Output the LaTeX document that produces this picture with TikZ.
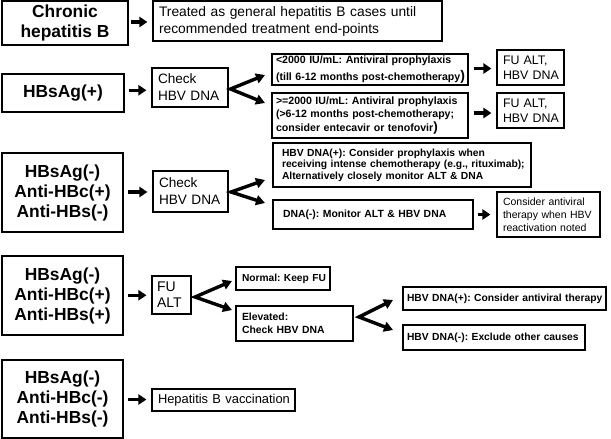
\documentclass[tikz,border=0pt]{standalone}
\usepackage{fontspec}
\setmainfont{Liberation Sans}
\usetikzlibrary{arrows.meta,calc}
\frenchspacing
\newcommand\fs[2]{\fontsize{#1}{#2}\selectfont}
\newcommand\mb[1]{\mbox{#1}}
\newcommand\bigpar[1]{{\fontsize{#1}{#1}\selectfont)}}
\newcommand\harr[4]{%
  \coordinate (m-#1-#2) at ($(#1.east)!.5!(#2.west)$);
  \draw[bigarrow, shorten <=#3, shorten >=#4] (#1.east |- m-#1-#2) -- (#2.west |- m-#1-#2);}
\tikzset{
  bx/.style={draw, line width=1.1pt, inner ysep=0pt, align=left, anchor=center},
  lbox/.style={draw, line width=1.5pt, inner sep=0pt, align=center, anchor=center, font=\bfseries\fs{17.4}{20}},
  bigarrow/.style={line width=3.2pt, -{Triangle[length=8pt,width=10pt]}},
  chev/.style={line width=3.4pt, line join=miter, {Triangle[length=9pt,width=10pt]}-{Triangle[length=9pt,width=10pt]}}
}
\begin{document}
\frenchspacing
\begin{tikzpicture}[x=1pt,y=-1pt]
\useasboundingbox[fill=white] (0,0) rectangle (611,439);
% row 1
\node[lbox, minimum width=126pt, minimum height=44pt] (chronic) at (65,23) {Chronic\\hepatitis B};
\node[bx, minimum width=289pt, minimum height=40pt, inner xsep=6pt, text width=277pt, font=\fs{13.8}{17}] (treated) at (297.5,21) {\mb{Treated as general hepatitis B cases until}\\\mb{recommended treatment end-points}};
% row 2
\node[lbox, minimum width=122pt, minimum height=38pt] (hbsagp) at (63,93) {HBsAg(+)};
\node[bx, minimum width=76pt, minimum height=39pt, inner xsep=6pt, text width=64pt, font=\fs{13.6}{17}] (chk1) at (190,87.5) {Check\\\mb{HBV DNA}};
\node[bx, minimum width=196pt, minimum height=31pt, inner xsep=4pt, text width=188pt, font=\bfseries\fs{10.6}{17}] (lt) at (370,69.5) {\mb{<2000 IU/mL: Antiviral prophylaxis}\\\mb{(till 6-12 months post-chemotherapy\bigpar{14}}};
\node[bx, minimum width=196pt, minimum height=45pt, inner xsep=4pt, text width=188pt, font=\bfseries\fs{10.6}{13.5}] (ge) at (370,115.5) {\mb{>=2000 IU/mL: Antiviral prophylaxis}\\\mb{(>6-12 months post-chemotherapy;}\\\mb{consider entecavir or tenofovir\bigpar{13.5}}};
\node[bx, minimum width=67pt, minimum height=35pt, inner xsep=6pt, text width=55pt, font=\fs{12.4}{15}] (fu1) at (530.5,67.5) {\mb{FU ALT,}\\\mb{HBV DNA}};
\node[bx, minimum width=67pt, minimum height=35pt, inner xsep=6pt, text width=55pt, font=\fs{12.4}{15}] (fu2) at (530.5,110.5) {\mb{FU ALT,}\\\mb{HBV DNA}};
% row 3
\node[lbox, minimum width=121pt, minimum height=79pt] (box3) at (62.5,192.5) {HBsAg(-)\\Anti-HBc(+)\\Anti-HBs(-)};
\node[bx, minimum width=75pt, minimum height=41pt, inner xsep=6pt, text width=63pt, font=\fs{13.6}{17}] (chk2) at (190.5,191.5) {Check\\\mb{HBV DNA}};
\node[bx, minimum width=258pt, minimum height=44pt, inner xsep=9pt, text width=240pt, font=\bfseries\fs{10.3}{11.5}] (dnap) at (402,165) {\mb{HBV DNA(+): Consider prophylaxis when}\\\mb{receiving intense chemotherapy (e.g., rituximab);}\\\mb{Alternatively closely monitor ALT \& DNA}};
\node[bx, minimum width=200pt, minimum height=29pt, inner xsep=10pt, text width=180pt, font=\bfseries\fs{10.4}{13}] (dnan) at (373,214.5) {\mb{DNA(-): Monitor ALT \& HBV DNA}};
\node[bx, minimum width=103pt, minimum height=45pt, inner xsep=6pt, text width=91pt, font=\fs{10.5}{13}] (cons) at (548.5,214.5) {\mb{Consider antiviral}\\\mb{therapy when HBV}\\\mb{reactivation noted}};
% row 4
\node[lbox, minimum width=121pt, minimum height=79pt] (box4) at (62.5,295.5) {HBsAg(-)\\Anti-HBc(+)\\Anti-HBs(+)};
\node[bx, minimum width=39pt, minimum height=38pt, inner xsep=5pt, text width=29pt, font=\fs{14}{16}] (fu3) at (171.5,295) {FU\\ALT};
\node[bx, minimum width=94pt, minimum height=23pt, inner xsep=6pt, text width=82pt, font=\bfseries\fs{10.2}{13}] (normal) at (283,278.5) {\mb{Normal: Keep FU}};
\node[bx, minimum width=117pt, minimum height=35pt, inner xsep=6pt, text width=105pt, font=\bfseries\fs{10.4}{13}] (elev) at (294.5,323.5) {Elevated:\\\mb{Check HBV DNA}};
\node[bx, minimum width=203pt, minimum height=23pt, inner xsep=4pt, text width=195pt, font=\bfseries\fs{10.3}{13}] (ther) at (504.5,298.5) {\mb{HBV DNA(+): Consider antiviral therapy}};
\node[bx, minimum width=182pt, minimum height=25pt, inner xsep=4pt, text width=174pt, font=\bfseries\fs{10.3}{13}] (excl) at (494,337.5) {\mb{HBV DNA(-): Exclude other causes}};
% row 5
\node[lbox, minimum width=121pt, minimum height=78pt] (box5) at (62.5,399) {HBsAg(-)\\Anti-HBc(-)\\Anti-HBs(-)};
\node[bx, minimum width=143pt, minimum height=22pt, inner xsep=6pt, text width=131pt, font=\fs{12.9}{15}] (vacc) at (223.5,400) {\mb{Hepatitis B vaccination}};
% straight arrows
\harr{chronic}{treated}{2pt}{5pt}
\harr{hbsagp}{chk1}{4.5pt}{5pt}
\harr{lt}{fu1}{5pt}{5pt}
\harr{ge}{fu2}{5pt}{5pt}
\harr{box3}{chk2}{4.5pt}{5pt}
\harr{dnan}{cons}{4pt}{6pt}
\harr{box4}{fu3}{4.5pt}{5pt}
\harr{box5}{vacc}{4.5pt}{5pt}
% chevrons
\coordinate (v1) at (230.5,89);
\coordinate (t1a) at (265,75);
\coordinate (t1b) at (265,103);
\draw[chev] (t1a) -- (v1) -- (t1b);
\coordinate (v2) at (231,192);
\coordinate (t2a) at (265,180);
\coordinate (t2b) at (265,203);
\draw[chev] (t2a) -- (v2) -- (t2b);
\coordinate (v3) at (195,297);
\coordinate (t3a) at (232,281);
\coordinate (t3b) at (232,310);
\draw[chev] (t3a) -- (v3) -- (t3b);
\coordinate (v4) at (359,317);
\coordinate (t4a) at (393,300);
\coordinate (t4b) at (393,330);
\draw[chev] (t4a) -- (v4) -- (t4b);
\end{tikzpicture}
\end{document}
